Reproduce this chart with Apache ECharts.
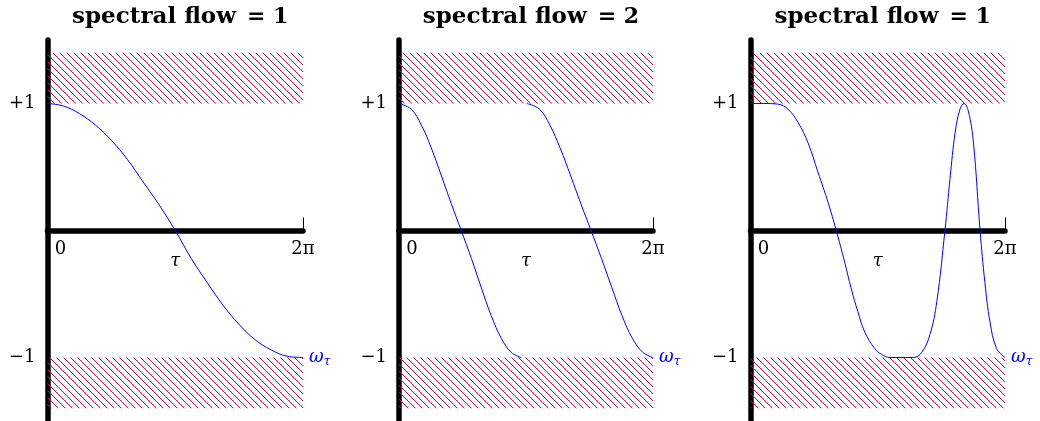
<!DOCTYPE html>
<head>
    <meta charset="utf-8">
    <title>spectral flow</title>
    <script src="https://cdn.jsdelivr.net/npm/echarts@6/dist/echarts.min.js"></script>
    <style>
        body { margin: 0; background: #fff; }
    </style>
</head>
<body>
    <div id="main" style="width:1040px;height:421px"></div>
    <script type="text/javascript">
    // tau as fraction of 2*pi, omega values
    var titles = ['1', '2', '1'];

    var p1Tau = [0, 0.0625, 0.125, 0.1875, 0.25, 0.3125, 0.375, 0.4375, 0.5, 0.5625, 0.625, 0.6875, 0.75, 0.8125, 0.875, 0.9375, 1];
    var p1Omega = [1, 0.98, 0.92, 0.83, 0.71, 0.56, 0.38, 0.2, 0, -0.22, -0.41, -0.59, -0.74, -0.86, -0.94, -0.99, -1];

    var p2aTau = [0, 0.048, 0.088, 0.127, 0.167, 0.206, 0.245, 0.285, 0.324, 0.363, 0.403, 0.442, 0.481];
    var p2aOmega = [1, 0.955, 0.83, 0.65, 0.43, 0.21, 0, -0.22, -0.45, -0.67, -0.85, -0.96, -1];
    var p2bTau = [0.503, 0.553, 0.594, 0.634, 0.676, 0.716, 0.756, 0.797, 0.838, 0.878, 0.919, 0.96, 1];
    var p2bOmega = [1, 0.955, 0.83, 0.65, 0.43, 0.21, 0, -0.22, -0.45, -0.67, -0.85, -0.96, -1];

    var p3Tau = [0, 0.05, 0.108, 0.147, 0.187, 0.226, 0.265, 0.305, 0.337, 0.37, 0.396, 0.422, 0.449, 0.488, 0.515, 0.548, 0.64,
                 0.673, 0.705, 0.732, 0.764, 0.784, 0.804, 0.823, 0.839, 0.856, 0.876, 0.902, 0.921, 0.941, 0.967, 1];
    var p3Omega = [1, 1, 0.995, 0.955, 0.85, 0.69, 0.46, 0.22, 0, -0.25, -0.46, -0.64, -0.8, -0.93, -0.975, -1, -1,
                   -0.96, -0.82, -0.56, 0, 0.41, 0.77, 0.955, 1, 0.94, 0.69, 0, -0.41, -0.72, -0.93, -1];

    var xTicks = ['0', '2π'];
    var yTicks = ['+1', '−1'];
    var bandTop = [1, 1.4];
    var bandBottom = [-1.4, -1];

    function pairs(xs, ys) {
        var out = [];
        for (var i = 0; i < xs.length; i++) out.push([xs[i], ys[i]]);
        return out;
    }

    // hatch pattern (\\\\ lines)
    function makeHatch() {
        var s = 7;
        var c = document.createElement('canvas');
        c.width = s; c.height = s;
        var g = c.getContext('2d');
        g.strokeStyle = '#cc0a4a';
        g.lineWidth = 1;
        for (var k = -1; k <= 1; k++) {
            g.beginPath();
            g.moveTo(-1, -1 + k * s);
            g.lineTo(s + 1, s + 1 + k * s);
            g.stroke();
        }
        return c;
    }
    var hatch = { image: makeHatch(), repeat: 'repeat' };

    var lefts = [47.5, 399, 750.5];
    var widths = [255.5, 254, 254.5];
    var font = 'DejaVu Serif';
    var gridTop = 40, gridH = 381;
    var zeroFromBottom = 190.5;

    var grids = [], xAxes = [], yAxes = [], titleList = [], series = [];
    for (var i = 0; i < 3; i++) {
        grids.push({ left: lefts[i], width: widths[i], top: gridTop, height: gridH, outerBoundsMode: 'none', containLabel: false });
        titleList.push({
            text: '{b|spectral flow}{r|= ' + titles[i] + '}',
            left: lefts[i] + widths[i] / 2,
            textAlign: 'center',
            top: 1,
            textStyle: {
                rich: {
                    b: { fontFamily: font, fontWeight: 'bold', fontSize: 23, color: '#000' },
                    r: { fontFamily: font, fontSize: 22, color: '#000', padding: [0, 0, 0, 11] }
                }
            }
        });
        xAxes.push({
            gridIndex: i, type: 'value', min: 0, max: 1, interval: 1,
            position: 'bottom', offset: -zeroFromBottom,
            axisLine: { onZero: false, lineStyle: { color: '#000', width: 5.5 } },
            axisTick: { show: true, inside: true, length: 13, lineStyle: { color: '#000', width: 1 } },
            splitLine: { show: false },
            axisLabel: {
                margin: 10,
                formatter: function (v) { return v === 0 ? '{z|' + xTicks[0] + '}' : '{p|' + xTicks[1] + '}'; },
                rich: {
                    z: { fontFamily: font, fontSize: 18, color: '#000', padding: [0, 0, 0, 26] },
                    p: { fontFamily: font, fontSize: 18, color: '#000' }
                }
            },
            name: 'τ', nameLocation: 'middle', nameGap: 22, nameMoveOverlap: false,
            nameTextStyle: { fontFamily: font, fontStyle: 'italic', fontSize: 18, color: '#000' }
        });
        yAxes.push({
            gridIndex: i, type: 'value', min: -1.5, max: 1.5, interval: 0.5,
            axisLine: { show: true, onZero: false, lineStyle: { color: '#000', width: 5.5 } },
            axisTick: { show: false },
            splitLine: { show: false },
            axisLabel: {
                margin: 12, fontFamily: font, fontSize: 18, color: '#000',
                formatter: function (v) { return v === 1 ? yTicks[0] : (v === -1 ? yTicks[1] : ''); }
            }
        });
    }

    var curves = [
        [0, pairs(p1Tau, p1Omega), true],
        [1, pairs(p2aTau, p2aOmega), false],
        [1, pairs(p2bTau, p2bOmega), true],
        [2, pairs(p3Tau, p3Omega), true]
    ];
    var marked = {};
    curves.forEach(function (c) {
        var s = {
            type: 'line', xAxisIndex: c[0], yAxisIndex: c[0],
            data: c[1], smooth: 0.4, showSymbol: false,
            lineStyle: { color: '#0000ff', width: 1 },
            silent: true,
            endLabel: {
                show: c[2], distance: 6,
                formatter: '{w|ω}{s|τ}',
                rich: {
                    w: { fontFamily: font, fontStyle: 'italic', fontSize: 18, color: '#0000ff' },
                    s: { fontFamily: font, fontStyle: 'italic', fontSize: 12, color: '#0000ff', padding: [8, 0, 0, 0] }
                }
            }
        };
        if (!marked[c[0]]) {
            marked[c[0]] = true;
            s.markArea = {
                silent: true,
                itemStyle: { color: hatch },
                data: [
                    [{ yAxis: bandTop[0] }, { yAxis: bandTop[1] }],
                    [{ yAxis: bandBottom[0] }, { yAxis: bandBottom[1] }]
                ]
            };
        }
        series.push(s);
    });

    var myChart = echarts.init(document.getElementById('main'));
    myChart.setOption({
        animation: false,
        title: titleList,
        grid: grids,
        xAxis: xAxes,
        yAxis: yAxes,
        series: series
    });
    </script>
</body>
